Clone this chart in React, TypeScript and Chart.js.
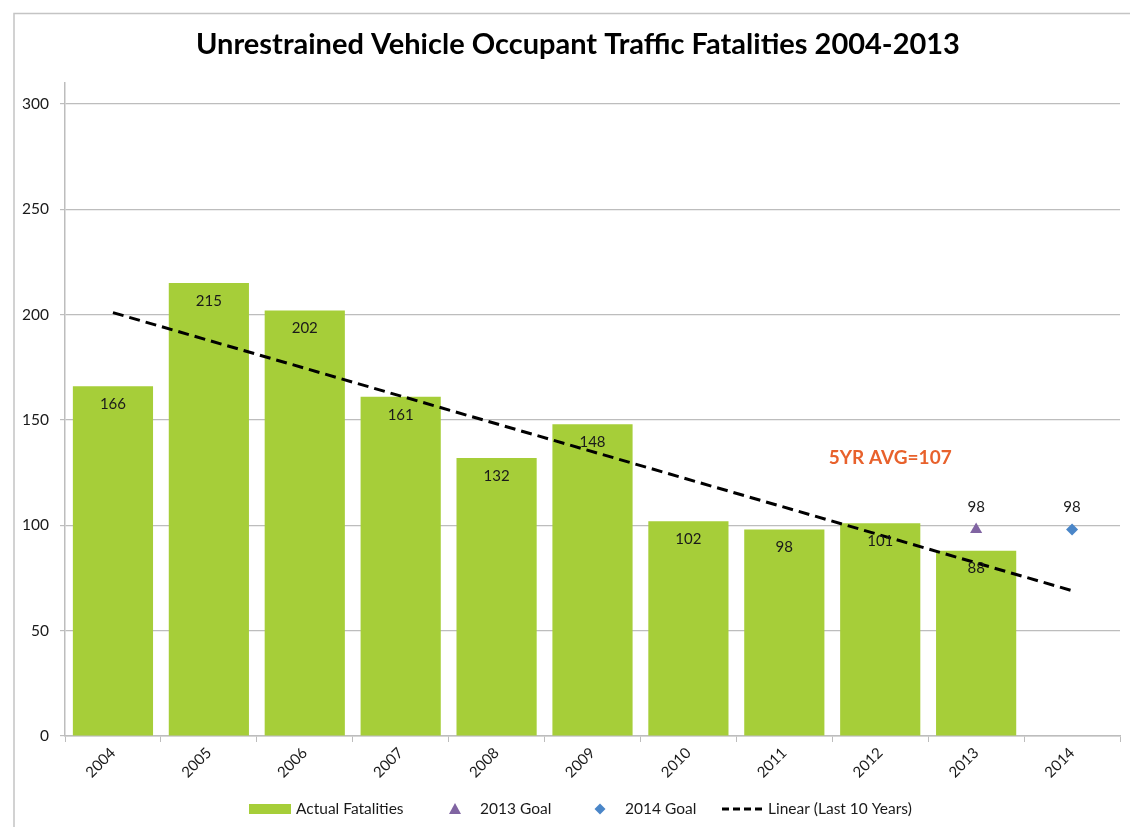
import React, { useEffect, useRef } from "react";
import { Chart, registerables } from "chart.js";

Chart.register(...registerables);

const years = ["2004", "2005", "2006", "2007", "2008", "2009", "2010", "2011", "2012", "2013", "2014"];
const actualFatalities = [166, 215, 202, 161, 132, 148, 102, 98, 101, 88, null];
const goal2013 = [null, null, null, null, null, null, null, null, null, 98, null];
const goal2014 = [null, null, null, null, null, null, null, null, null, null, 98];
const linearTrend = [201, null, null, null, null, null, null, null, null, null, 69];
const yTicks = [0, 50, 100, 150, 200, 250, 300];
const avgNote = { text: "5YR AVG=107", index: 8, value: 132 };

const FONT = "Lato, 'Open Sans', sans-serif";
const GREEN = "#A6CE39";
const PURPLE = "#8064A2";
const BLUE = "#4A86C8";
const ORANGE = "#E8612C";
const GRID = "#BDBDBD";
const TEXT = "#1A1A1A";

const overlayPlugin = {
  id: "overlay",
  afterDatasetsDraw(chart: any) {
    const ctx = chart.ctx;
    const xs = chart.scales.x;
    const ys = chart.scales.y;
    ctx.save();
    const barMeta = chart.getDatasetMeta(0);
    ctx.font = `15px ${FONT}`;
    ctx.fillStyle = TEXT;
    ctx.textAlign = "center";
    ctx.textBaseline = "middle";
    barMeta.data.forEach((el: any, i: number) => {
      const v = actualFatalities[i];
      if (v == null) return;
      ctx.fillText(String(v), el.x, el.y + 18);
    });
    [1, 2].forEach((di) => {
      const meta = chart.getDatasetMeta(di);
      const arr = di === 1 ? goal2013 : goal2014;
      meta.data.forEach((el: any, i: number) => {
        const v = arr[i];
        if (v == null) return;
        ctx.fillText(String(v), el.x, el.y - 22);
      });
    });
    ctx.font = `bold 19px ${FONT}`;
    ctx.fillStyle = ORANGE;
    ctx.fillText(avgNote.text, xs.getPixelForValue(avgNote.index) + 10, ys.getPixelForValue(avgNote.value));
    ctx.restore();
  },
  afterDraw(chart: any) {
    const ctx = chart.ctx;
    ctx.save();
    ctx.strokeStyle = "#C4C4C4";
    ctx.lineWidth = 1.5;
    ctx.beginPath();
    ctx.moveTo(14, 830);
    ctx.lineTo(14, 13.5);
    ctx.lineTo(1135, 13.5);
    ctx.stroke();
    ctx.fillStyle = "#000";
    ctx.font = `bold 29px ${FONT}`;
    ctx.textAlign = "center";
    ctx.textBaseline = "middle";
    ctx.fillText("Unrestrained Vehicle Occupant Traffic Fatalities 2004-2013", 578, 45);
    const ly = 809;
    ctx.font = `15.5px ${FONT}`;
    ctx.textAlign = "left";
    ctx.fillStyle = GREEN;
    ctx.fillRect(249, ly - 5, 42, 10);
    ctx.fillStyle = TEXT;
    ctx.fillText(chart.data.datasets[0].label, 296, ly);
    ctx.fillStyle = PURPLE;
    ctx.beginPath();
    ctx.moveTo(455, ly - 6);
    ctx.lineTo(461, ly + 5);
    ctx.lineTo(449, ly + 5);
    ctx.closePath();
    ctx.fill();
    ctx.fillStyle = TEXT;
    ctx.fillText(chart.data.datasets[1].label, 480, ly);
    ctx.fillStyle = BLUE;
    ctx.beginPath();
    ctx.moveTo(600, ly - 5.5);
    ctx.lineTo(605.5, ly);
    ctx.lineTo(600, ly + 5.5);
    ctx.lineTo(594.5, ly);
    ctx.closePath();
    ctx.fill();
    ctx.fillStyle = TEXT;
    ctx.fillText(chart.data.datasets[2].label, 625, ly);
    ctx.strokeStyle = "#000";
    ctx.lineWidth = 3;
    ctx.setLineDash([7, 4]);
    ctx.beginPath();
    ctx.moveTo(722, ly);
    ctx.lineTo(766, ly);
    ctx.stroke();
    ctx.setLineDash([]);
    ctx.fillText(chart.data.datasets[3].label, 768, ly);
    ctx.restore();
  },
};

export default function App() {
  const ref = useRef<HTMLCanvasElement>(null);
  useEffect(() => {
    if (!ref.current) return;
    const chart = new Chart(ref.current, {
      type: "bar",
      data: {
        labels: years,
        datasets: [
          {
            type: "bar",
            label: "Actual Fatalities",
            data: actualFatalities,
            backgroundColor: GREEN,
            borderWidth: 0,
            barPercentage: 0.836,
            categoryPercentage: 1,
            order: 3,
          },
          {
            type: "line",
            label: "2013 Goal",
            data: goal2013,
            showLine: false,
            pointStyle: "triangle",
            pointRadius: 7,
            pointBackgroundColor: PURPLE,
            pointBorderColor: PURPLE,
            pointBorderWidth: 0,
            order: 1,
          },
          {
            type: "line",
            label: "2014 Goal",
            data: goal2014,
            showLine: false,
            pointStyle: "rectRot",
            pointRadius: 6,
            pointBackgroundColor: BLUE,
            pointBorderColor: BLUE,
            pointBorderWidth: 0,
            order: 1,
          },
          {
            type: "line",
            label: "Linear (Last 10 Years)",
            data: linearTrend,
            spanGaps: true,
            borderColor: "#000",
            borderWidth: 3,
            borderDash: [11, 6],
            pointRadius: 0,
            fill: false,
            order: 0,
          },
        ] as any,
      },
      options: {
        animation: false,
        responsive: false,
        layout: { padding: { top: 83, right: 10, left: 0, bottom: 0 } },
        plugins: {
          legend: { display: false },
          title: { display: false },
          tooltip: { enabled: false },
        },
        scales: {
          x: {
            offset: true,
            grid: {
              display: true,
              offset: true,
              drawOnChartArea: false,
              tickLength: 6,
              color: GRID,
            },
            border: { color: GRID, width: 1.5 },
            ticks: {
              maxRotation: 45,
              minRotation: 45,
              padding: 2,
              color: TEXT,
              font: { family: FONT, size: 15 },
            },
            afterFit(scale: any) {
              scale.height = 91;
            },
          },
          y: {
            min: 0,
            max: 310,
            ticks: {
              stepSize: 50,
              padding: 11,
              color: TEXT,
              font: { family: FONT, size: 15.5 },
            },
            afterBuildTicks(scale: any) {
              scale.ticks = yTicks.map((v) => ({ value: v }));
            },
            grid: { color: GRID, tickLength: 5, lineWidth: 1.2 },
            border: { color: GRID, width: 1.5 },
            afterFit(scale: any) {
              scale.width = 65;
            },
          },
        },
      },
      plugins: [overlayPlugin],
    });
    return () => chart.destroy();
  }, []);
  return (
    <div style={{ position: "fixed", left: 0, top: 0, width: 1130, height: 827, background: "#fff" }}>
      <canvas ref={ref} width={1130} height={827} style={{ width: 1130, height: 827, display: "block" }} />
    </div>
  );
}
